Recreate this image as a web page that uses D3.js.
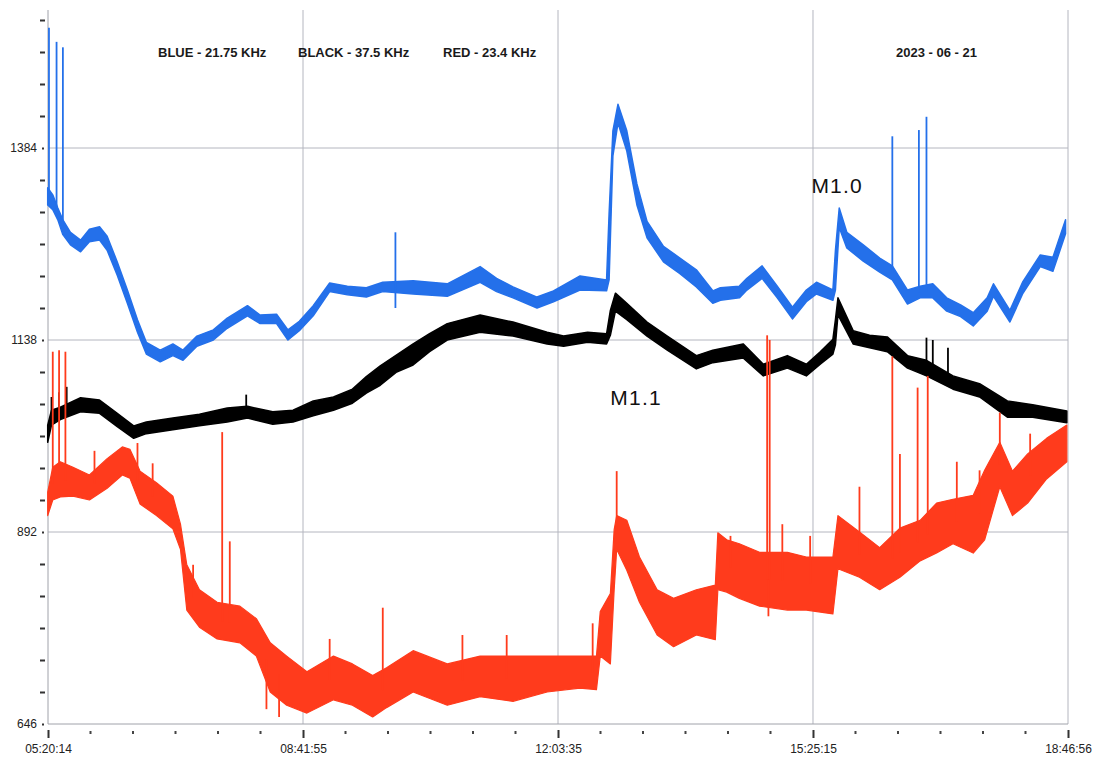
<!DOCTYPE html>
<html><head><meta charset="utf-8">
<script src="https://cdn.jsdelivr.net/npm/d3@7"></script>
<style>
html,body{margin:0;padding:0;background:#fff;}
svg{display:block;font-family:"Liberation Sans",Arial,sans-serif;}
</style></head>
<body><svg id="c" width="1097" height="759"></svg>
<script>
// ---------- DATA ----------
const blueTimes = ["05:20","05:24","05:28","05:32","05:38","05:46","05:53","06:01","06:07","06:15","06:23","06:31","06:38","06:49","06:59","07:07","07:18","07:31","07:42","07:58","08:08","08:21","08:30","08:39","08:50","09:03","09:17","09:32","09:45","10:09","10:36","11:02","11:15","11:28","11:47","12:00","12:21","12:42","12:44","12:47","12:51","12:58","13:06","13:14","13:27","13:40","13:53","14:06","14:12","14:27","14:33","14:45","14:57","15:09","15:20","15:28","15:41","15:43","15:46","15:52","16:05","16:18","16:28","16:40","16:50","17:00","17:11","17:22","17:32","17:43","17:48","18:01","18:11","18:25","18:35","18:45"];
const blueHi = [1333,1324,1307,1292,1276,1266,1280,1283,1271,1238,1202,1164,1135,1125,1133,1125,1143,1151,1166,1182,1170,1171,1151,1162,1182,1211,1207,1205,1212,1214,1210,1232,1217,1206,1193,1201,1220,1215,1300,1406,1440,1406,1338,1290,1258,1243,1228,1201,1205,1207,1217,1233,1207,1180,1202,1212,1202,1253,1307,1276,1260,1243,1233,1202,1207,1210,1192,1183,1173,1192,1210,1176,1212,1247,1244,1292];
const blueLo = [1311,1305,1292,1273,1260,1251,1264,1266,1253,1221,1185,1148,1120,1110,1118,1112,1130,1138,1153,1169,1159,1159,1138,1150,1169,1200,1196,1193,1200,1197,1194,1212,1200,1192,1179,1187,1202,1201,1215,1374,1416,1380,1311,1269,1238,1223,1206,1185,1189,1192,1202,1217,1192,1165,1187,1197,1189,1202,1282,1256,1239,1225,1215,1184,1192,1192,1175,1168,1156,1175,1194,1161,1197,1232,1226,1274];
const blueSpikeTimes = ["05:21","05:27","05:32","09:55","09:55","16:28","16:49","16:55"];
const blueSpikeValues = [1538,1520,1513,1276,1179,1399,1407,1424];

const blackTimes = ["05:20","05:23","05:30","05:46","06:01","06:15","06:28","06:38","06:59","07:20","07:42","07:58","08:18","08:34","08:50","09:06","09:21","09:32","09:43","09:56","10:09","10:22","10:36","11:02","11:28","11:55","12:08","12:27","12:42","12:45","12:49","12:58","13:14","13:30","13:53","14:06","14:30","14:46","15:05","15:20","15:31","15:41","15:43","15:45","15:57","16:10","16:24","16:40","16:55","17:16","17:37","17:59","18:19","18:46"];
const blackHi = [1029,1048,1052,1064,1061,1044,1028,1033,1038,1043,1051,1053,1046,1048,1060,1065,1075,1091,1105,1119,1133,1146,1159,1170,1161,1148,1143,1148,1146,1176,1198,1185,1161,1143,1118,1125,1133,1107,1118,1107,1123,1139,1164,1192,1150,1144,1142,1118,1112,1092,1082,1060,1055,1047];
const blackLo = [1007,1029,1036,1046,1044,1027,1012,1018,1023,1028,1033,1038,1030,1033,1041,1048,1057,1070,1080,1097,1106,1123,1138,1148,1143,1133,1130,1135,1133,1144,1175,1164,1143,1125,1101,1109,1115,1092,1102,1092,1107,1120,1132,1170,1133,1128,1123,1102,1092,1075,1065,1039,1039,1032];
const blackSpikeTimes = ["05:23","05:29","05:35","07:57","16:55","17:00","17:12"];
const blackSpikeValues = [1065,1071,1078,1068,1141,1138,1128];

const redTimes = ["05:20","05:24","05:30","05:40","05:53","06:07","06:19","06:25","06:33","06:46","06:59","07:05","07:10","07:20","07:34","07:52","08:05","08:16","08:29","08:45","09:06","09:21","09:37","09:48","10:09","10:36","11:02","11:28","11:55","12:21","12:34","12:37","12:45","12:48","12:50","12:58","13:08","13:22","13:35","13:53","14:08","14:10","14:17","14:27","14:43","15:05","15:20","15:41","15:45","16:02","16:18","16:34","16:50","17:03","17:16","17:32","17:41","17:53","18:03","18:15","18:30","18:46"];
const redHi = [943,975,982,975,965,986,1001,998,970,955,938,902,850,818,802,797,781,750,733,713,733,723,708,718,740,723,733,733,733,733,733,790,813,895,913,907,860,818,807,818,824,891,882,877,866,866,860,860,913,892,872,897,907,929,934,939,971,1007,970,992,1012,1029];
const redLo = [913,933,937,938,933,948,965,961,928,913,896,870,792,770,755,750,733,687,670,660,677,670,655,667,687,670,681,675,687,692,690,733,723,818,870,843,802,760,745,760,754,818,815,807,797,792,792,787,845,834,818,834,855,865,877,865,882,950,913,929,960,982];
const redSpikeTimes = ["05:24","05:29","05:34","05:57","06:31","06:43","07:15","07:38","07:44","08:13","08:23","09:03","09:45","10:48","11:23","12:31","12:50","14:20","14:49","14:50","14:51","15:01","15:23","16:02","16:28","16:34","16:48","16:56","17:19","17:37","17:53","18:17"];
const redSpikeValues = [1123,1125,1123,996,1006,980,850,1020,880,665,655,755,795,760,760,775,970,887,1144,784,1138,902,887,950,1117,992,1077,1092,982,971,1045,1018];

const seriesNames = ["BLUE - 21.75 KHz","BLACK - 37.5 KHz","RED - 23.4 KHz"];
const dateLabel = "2023 - 06 - 21";
const flareLabels = ["M1.1","M1.0"];
const flareTimes = ["12:45","15:24"];
const flareValues = [1055,1326];

const xStart = "05:20:14", xEnd = "18:46:56";
const xTickLabels = ["05:20:14","08:41:55","12:03:35","15:25:15","18:46:56"];
const yLabelValues = [646,892,1138,1384];
const yMin = 646, yMax = 1548, yStep = 41;

// ---------- CHART ----------
const svg = d3.select("#c");
const day = "2023-06-21 ";
const pHM = d3.timeParse("%Y-%m-%d %H:%M");
const pHMS = d3.timeParse("%Y-%m-%d %H:%M:%S");
const T = s => pHM(day + s);
const TS = s => pHMS(day + s);

const L = 48, R = 1068, B = 724, TOP = 20;
const x = d3.scaleTime().domain([TS(xStart), TS(xEnd)]).range([L, R]);
const y = d3.scaleLinear().domain([yMin, yMax]).range([B, TOP]);

const gridCol = "#b4b6bf";
const g = svg.append("g");

yLabelValues.filter(v => v !== yMin).forEach(v => {
  g.append("line").attr("x1", L).attr("x2", R).attr("y1", y(v)).attr("y2", y(v))
    .attr("stroke", gridCol).attr("stroke-width", 1);
});
xTickLabels.slice(1).forEach(s => {
  g.append("line").attr("x1", x(TS(s))).attr("x2", x(TS(s))).attr("y1", 10).attr("y2", B)
    .attr("stroke", gridCol).attr("stroke-width", 1);
});
g.append("line").attr("x1", L).attr("x2", L).attr("y1", 10).attr("y2", B).attr("stroke", "#a0a2aa");
g.append("line").attr("x1", L).attr("x2", R).attr("y1", B).attr("y2", B).attr("stroke", "#a0a2aa");

const yTicks = d3.range(yMin, yMax + 1, yStep);
const yAxis = d3.axisLeft(y).tickValues(yTicks).tickSize(0).tickPadding(0)
  .tickFormat(v => yLabelValues.includes(v) ? v : "");
const ya = svg.append("g").attr("transform", `translate(${L},0)`).call(yAxis);
ya.select(".domain").remove();
ya.selectAll("text").attr("x", -11).attr("font-size", 12).attr("fill", "#222")
  .attr("font-family", "Liberation Sans, Arial, sans-serif");
ya.selectAll(".tick").append("rect")
  .attr("x", d => yLabelValues.includes(d) ? -6 : -8)
  .attr("width", d => yLabelValues.includes(d) ? 2 : 5)
  .attr("y", -1).attr("height", 2).attr("fill", "#333");

const majors = xTickLabels.map(TS);
const minors = [];
for (let i = 0; i < majors.length - 1; i++) {
  const a = +majors[i], b = +majors[i + 1];
  for (let k = 1; k < 6; k++) minors.push(new Date(a + (b - a) * k / 6));
}
const xAxis = d3.axisBottom(x).tickValues(majors).tickSize(0).tickFormat(d3.timeFormat("%H:%M:%S"));
const xa = svg.append("g").attr("transform", `translate(0,${B})`).call(xAxis);
xa.select(".domain").remove();
xa.selectAll("text").attr("y", 20).attr("font-size", 12).attr("fill", "#222")
  .attr("font-family", "Liberation Sans, Arial, sans-serif");
xa.selectAll(".tick").append("rect").attr("x", -1).attr("width", 2).attr("y", 6).attr("height", 8).attr("fill", "#333");
svg.append("g").selectAll("rect").data(minors).join("rect")
  .attr("x", d => x(d) - 1).attr("width", 2).attr("y", B + 7).attr("height", 3).attr("fill", "#444");

function drawSeries(times, hi, lo, spikeTimes, spikeVals, color, sw) {
  const data = times.map((t, i) => ({ t: T(t), hi: hi[i], lo: lo[i] }));
  const area = d3.area().x(d => x(d.t)).y0(d => y(d.lo)).y1(d => y(d.hi));
  svg.append("path").datum(data).attr("d", area).attr("fill", color)
    .attr("stroke", color).attr("stroke-width", sw).attr("stroke-linejoin", "round");
  const mid = t => {
    const i = d3.bisector(d => d.t).left(data, t);
    const a = data[Math.max(0, i - 1)], b = data[Math.min(data.length - 1, i)];
    const f = (+b.t === +a.t) ? 0 : (t - a.t) / (b.t - a.t);
    return (a.hi + a.lo) / 2 + f * ((b.hi + b.lo) / 2 - (a.hi + a.lo) / 2);
  };
  const sp = spikeTimes.map((s, i) => ({ t: T(s), v: spikeVals[i] }));
  svg.append("g").selectAll("line").data(sp).join("line")
    .attr("x1", d => x(d.t)).attr("x2", d => x(d.t))
    .attr("y1", d => y(mid(d.t))).attr("y2", d => y(d.v))
    .attr("stroke", color).attr("stroke-width", 1.8);
}
drawSeries(blueTimes, blueHi, blueLo, blueSpikeTimes, blueSpikeValues, "#2470ea", 1.5);
drawSeries(blackTimes, blackHi, blackLo, blackSpikeTimes, blackSpikeValues, "#000000", 1.5);
drawSeries(redTimes, redHi, redLo, redSpikeTimes, redSpikeValues, "#ff3b1c", 1.2);

const hdr = [[158, seriesNames[0]], [298, seriesNames[1]], [443, seriesNames[2]], [896, dateLabel]];
svg.append("g").selectAll("text").data(hdr).join("text")
  .attr("x", d => d[0]).attr("y", 57).attr("font-size", 13).attr("font-weight", "bold")
  .attr("fill", "#1a1a1a").text(d => d[1]);

svg.append("g").selectAll("text").data(flareLabels).join("text")
  .attr("x", (d, i) => x(T(flareTimes[i]))).attr("y", (d, i) => y(flareValues[i]))
  .attr("font-size", 21).attr("letter-spacing", 1.2).attr("fill", "#111").text(d => d);
</script>
</body></html>
